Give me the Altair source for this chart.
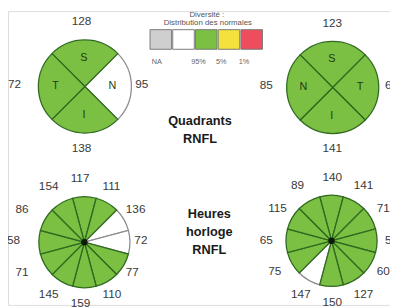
import math
import altair as alt
import pandas as pd

# ---------------- data ----------------
quad_left_sectors = ["S", "N", "I", "T"]
quad_left_values = [128, 95, 138, 72]
quad_left_status = ["ok", "high", "ok", "ok"]

quad_right_sectors = ["S", "T", "I", "N"]
quad_right_values = [123, 61, 141, 85]
quad_right_status = ["ok", "ok", "ok", "ok"]

clock_left_values = [117, 111, 136, 72, 77, 110, 159, 145, 71, 58, 86, 154]
clock_left_status = ["ok", "ok", "high", "high", "ok", "ok", "ok", "ok", "ok", "ok", "ok", "ok"]

clock_right_values = [140, 141, 71, 55, 60, 127, 150, 147, 75, 65, 115, 89]
clock_right_status = ["ok", "ok", "ok", "ok", "ok", "ok", "ok", "high", "ok", "ok", "ok", "ok"]

legend_keys = ["na", "high", "ok", "borderline", "low"]
legend_colors = ["#cfcfcf", "#ffffff", "#7bc043", "#f3e13c", "#ee4d5e"]
legend_labels = ["NA", "95%", "5%", "1%"]
legend_title = ["Diversité :", "Distribution des normales"]

titles = [["Quadrants", "RNFL"], ["Heures", "horloge", "RNFL"]]

# ---------------- layout ----------------
panels = [
    dict(name="ql", cx=86.5, cy=85, r=47.5, lx=73, ly=83, rx=65, ry=65, n=4,
         sectors=quad_left_sectors, values=quad_left_values, status=quad_left_status),
    dict(name="qr", cx=339.5, cy=86, r=47, lx=329, ly=84, rx=64, ry=64, n=4,
         sectors=quad_right_sectors, values=quad_right_values, status=quad_right_status),
    dict(name="cl", cx=86, cy=244, r=46.5, lx=72, ly=242, rx=65, ry=64, n=12,
         sectors=None, values=clock_left_values, status=clock_left_status),
    dict(name="cr", cx=338.3, cy=242.5, r=46.5, lx=329, ly=241.5, rx=64, ry=64, n=12,
         sectors=None, values=clock_right_values, status=clock_right_status),
]

arc_rows, label_rows, letter_rows, dot_rows = [], [], [], []
for p in panels:
    n = p["n"]
    step = 2 * math.pi / n
    for i in range(n):
        mid = i * step
        start = mid - step / 2 + 2 * math.pi
        end = mid + step / 2 + 2 * math.pi
        arc_rows.append(dict(cx=p["cx"], cy=p["cy"], r=p["r"], start=start, end=end,
                             status=p["status"][i],
                             order=0 if p["status"][i] == "high" else 1))
        label_rows.append(dict(x=p["lx"] + p["rx"] * math.sin(mid),
                               y=p["ly"] - p["ry"] * math.cos(mid),
                               text=str(p["values"][i])))
        if p["sectors"] is not None:
            letter_rows.append(dict(x=p["cx"] + 29 * math.sin(mid) - 1,
                                    y=p["cy"] - 29 * math.cos(mid),
                                    text=p["sectors"][i]))
    if n == 12:
        dot_rows.append(dict(x=p["cx"], y=p["cy"]))

arcs = pd.DataFrame(arc_rows).sort_values("order", kind="stable").reset_index(drop=True)
labels = pd.DataFrame(label_rows)
letters = pd.DataFrame(letter_rows)
dots = pd.DataFrame(dot_rows)

# legend boxes
box_rows = []
for i, k in enumerate(legend_keys):
    x0 = 153 + i * 23.2
    box_rows.append(dict(x=x0, x2=x0 + 22, y=27, y2=47, key=k))
boxes = pd.DataFrame(box_rows)
leg_lab_x = [160, 202.5, 225.7, 248.9]
leg_labels = pd.DataFrame(dict(x=leg_lab_x, y=[60] * 4, text=legend_labels))
leg_title = pd.DataFrame(dict(x=[211, 212], y=[12.5, 20.5], text=legend_title))

title_rows = []
for (lines, cx, y0) in [(titles[0], 204, 120), (titles[1], 213.5, 215)]:
    for j, t in enumerate(lines):
        title_rows.append(dict(x=cx, y=y0 + j * 18.5, text=t))
title_df = pd.DataFrame(title_rows)

# ---------------- chart ----------------
xs = alt.Scale(domain=[8, 398], range=[0, 390])
ys = alt.Scale(domain=[8, 308], range=[0, 300])
X = lambda f: alt.X(f, type="quantitative", scale=xs, axis=None)
Y = lambda f: alt.Y(f, type="quantitative", scale=ys, axis=None)

fill_scale = alt.Scale(domain=legend_keys, range=legend_colors)

arc_layer = alt.Chart(arcs).mark_arc(strokeWidth=1.3).encode(
    x=X("cx"), y=Y("cy"),
    theta=alt.Theta("start:Q", scale=None, stack=None),
    theta2="end:Q",
    radius=alt.Radius("r:Q", scale=None),
    fill=alt.Fill("status:N", scale=fill_scale, legend=None),
    stroke=alt.Stroke("status:N", scale=alt.Scale(domain=["ok", "high"], range=["#2f6a1f", "#8e8a90"]), legend=None),
    order=alt.Order("order:Q"),
)

dot_layer = alt.Chart(dots).mark_circle(size=42, color="#0a1a05", opacity=1).encode(
    x=X("x"), y=Y("y"))

label_layer = alt.Chart(labels).mark_text(align="left", baseline="middle", fontSize=12,
                                          font="Liberation Sans", color="#3a3a3a").encode(
    x=X("x"), y=Y("y"), text="text:N")

letter_layer = alt.Chart(letters).mark_text(align="center", baseline="middle", fontSize=11,
                                            font="Liberation Sans", color="#1e3a12").encode(
    x=X("x"), y=Y("y"), text="text:N")

box_layer = alt.Chart(boxes).mark_rect(stroke="#7a7a7a", strokeWidth=1).encode(
    x=X("x"), x2="x2", y=Y("y"), y2="y2",
    fill=alt.Fill("key:N", scale=fill_scale, legend=None))

leg_lab_layer = alt.Chart(leg_labels).mark_text(align="center", baseline="middle", fontSize=7.5,
                                                font="Liberation Sans", color="#666666").encode(
    x=X("x"), y=Y("y"), text="text:N")

leg_title_layer = alt.Chart(leg_title).mark_text(align="center", baseline="middle", fontSize=8,
                                                 font="Liberation Sans", color="#555555").encode(
    x=X("x"), y=Y("y"), text="text:N")

title_layer = alt.Chart(title_df).mark_text(align="center", baseline="middle", fontSize=13,
                                            fontWeight="bold", font="Liberation Sans",
                                            color="#1a1a1a").encode(
    x=X("x"), y=Y("y"), text="text:N")

chart = alt.layer(
    arc_layer, dot_layer, label_layer, letter_layer, box_layer,
    leg_lab_layer, leg_title_layer, title_layer
).properties(
    width=390, height=300, padding=0,
    autosize=alt.AutoSizeParams(type="none"),
).configure_view(stroke=None).configure(background="#ffffff")

chart.save("out.html", embed_options={"renderer": "svg", "actions": False})
